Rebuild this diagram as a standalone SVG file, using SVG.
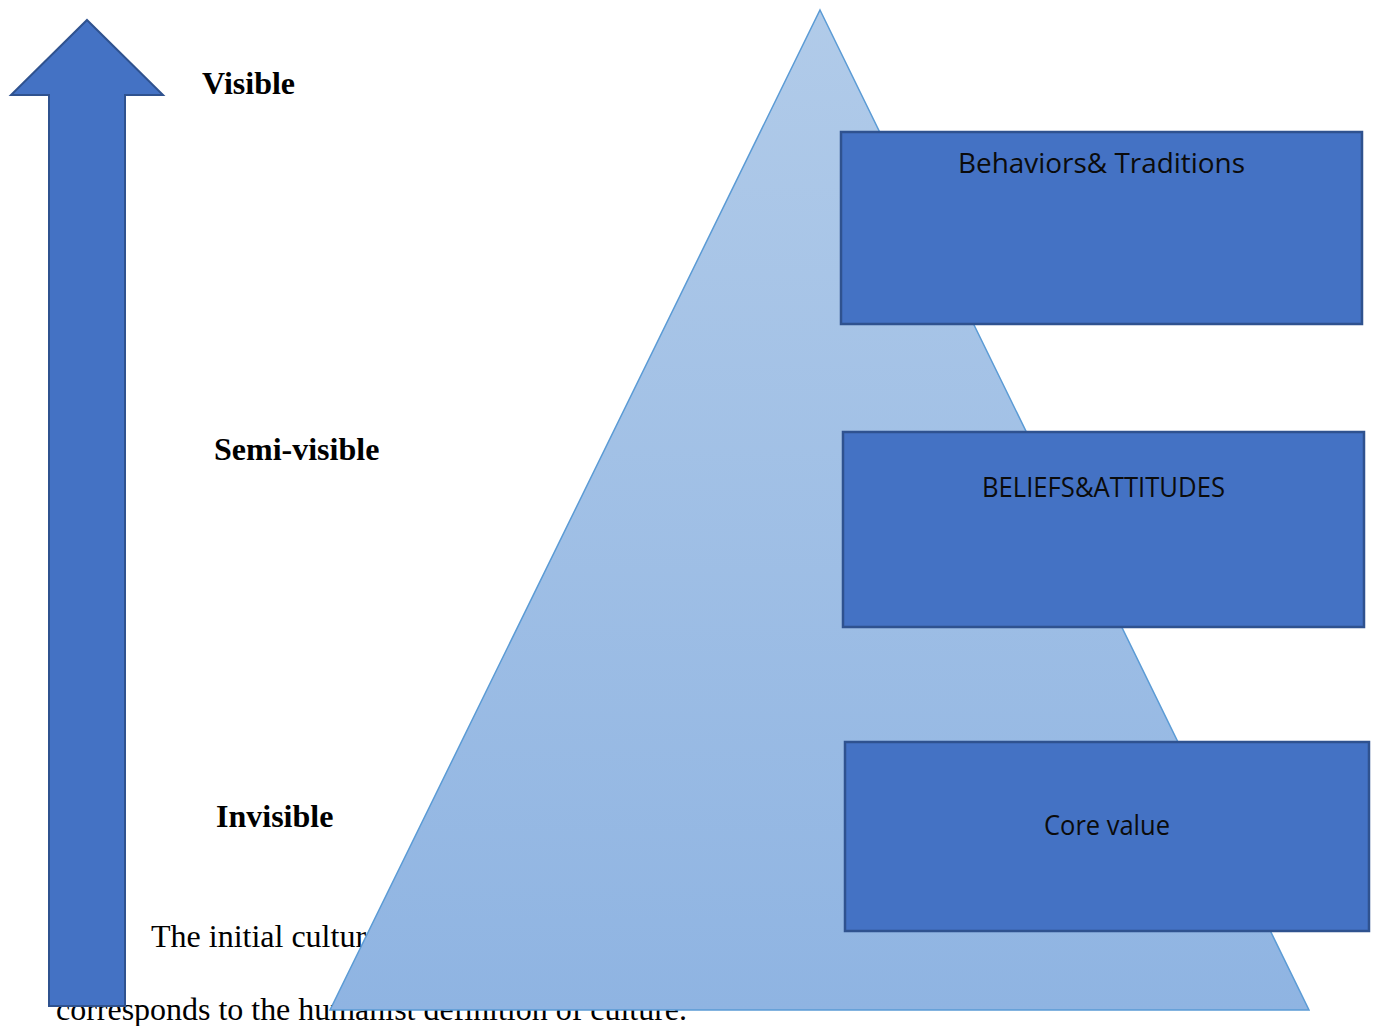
<svg xmlns="http://www.w3.org/2000/svg" width="1373" height="1026" viewBox="0 0 1373 1026">
  <defs>
    <linearGradient id="pyramidFill" x1="0" y1="0" x2="0" y2="1">
      <stop offset="0" stop-color="#b1cbe9"/>
      <stop offset="1" stop-color="#8fb4e2"/>
    </linearGradient>
    <style>
      .serif { font-family: "Liberation Serif", "Times New Roman", serif; font-size: 32px; fill: #000; }
      .bold { font-weight: bold; }
      .layer rect { fill: #4472c4; stroke: #2f528f; stroke-width: 2.5; }
      .layer text { font-family: "Open Sans", "Noto Sans", sans-serif; font-size: 27px; fill: #0b0b0b; text-anchor: middle; }
    </style>
  </defs>

  <rect width="1373" height="1026" fill="#ffffff"/>

  <!-- body text running behind the figure -->
  <g id="body-text" class="serif">
    <text x="151" y="947">The initial cultur</text>
    <text x="56" y="1020" textLength="631" lengthAdjust="spacing">corresponds to the humanist definition of culture.</text>
  </g>

  <!-- visibility arrow -->
  <g id="arrow">
    <polygon points="87,20 163,95 125,95 125,1006 49,1006 49,95 11,95" fill="#4472c4" stroke="#2f528f" stroke-width="2"/>
  </g>

  <!-- visibility labels -->
  <g id="label-visible"><text class="serif bold" x="202" y="94">Visible</text></g>
  <g id="label-semi"><text class="serif bold" x="214" y="460">Semi-visible</text></g>
  <g id="label-invisible"><text class="serif bold" x="216" y="827">Invisible</text></g>

  <!-- culture pyramid -->
  <g id="pyramid">
    <polygon points="820,10 1309,1010 330,1010" fill="url(#pyramidFill)" stroke="#5b9bd5" stroke-width="1.5"/>
  </g>

  <!-- layers -->
  <g id="layer-behaviors" class="layer">
    <rect x="841" y="132" width="521" height="192"/>
    <text x="1101.5" y="173" textLength="287" lengthAdjust="spacingAndGlyphs">Behaviors&amp; Traditions</text>
  </g>
  <g id="layer-beliefs" class="layer">
    <rect x="843" y="432" width="521" height="195"/>
    <text x="1103.5" y="497" textLength="243" lengthAdjust="spacingAndGlyphs">BELIEFS&amp;ATTITUDES</text>
  </g>
  <g id="layer-core" class="layer">
    <rect x="845" y="742" width="524" height="189"/>
    <text x="1107" y="835" textLength="126" lengthAdjust="spacingAndGlyphs">Core value</text>
  </g>

  <!-- connectors: none in this figure -->
  <g id="connectors"/>
</svg>
